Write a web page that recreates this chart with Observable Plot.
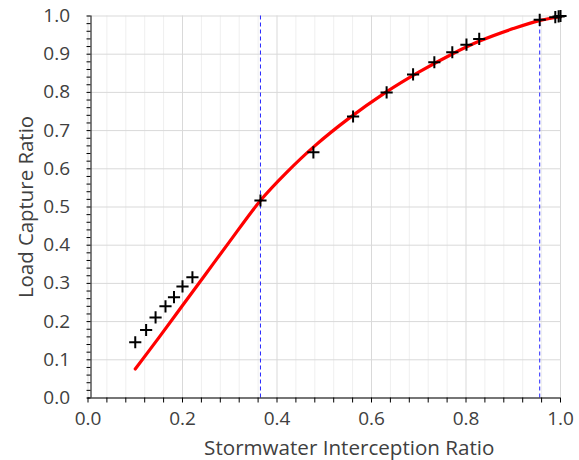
<!DOCTYPE html>
<html>
<head>
<meta charset="utf-8">
<script src="https://cdn.jsdelivr.net/npm/d3@7"></script>
<script src="https://cdn.jsdelivr.net/npm/@observablehq/plot@0.6"></script>
<style>
  body { margin: 0; background: #fff; }
  #chart svg { display: block; }
</style>
</head>
<body>
<div id="chart"></div>
<script>
// Observed points (black crosses)
const obsX = [0.100, 0.123, 0.143, 0.164, 0.182, 0.200, 0.221, 0.365, 0.477, 0.561, 0.632, 0.688, 0.733, 0.771, 0.801, 0.828, 0.956, 0.989, 0.996, 1.000];
const obsY = [0.146, 0.178, 0.211, 0.240, 0.264, 0.292, 0.316, 0.517, 0.643, 0.737, 0.800, 0.847, 0.879, 0.905, 0.925, 0.940, 0.990, 0.997, 0.999, 1.000];

// Fitted curve (red line)
const curveX = [0.10, 0.15, 0.20, 0.25, 0.30, 0.365, 0.42, 0.48, 0.55, 0.63, 0.70, 0.77, 0.83, 0.90, 0.955, 1.00];
const curveY = [0.076, 0.158, 0.242, 0.326, 0.410, 0.517, 0.590, 0.660, 0.730, 0.800, 0.853, 0.900, 0.935, 0.967, 0.988, 0.998];

// Reference (dashed blue) lines
const refX = [0.365, 0.956];

// Tick values
const xTicks = [0.0, 0.2, 0.4, 0.6, 0.8, 1.0];
const yTicks = [0.0, 0.1, 0.2, 0.3, 0.4, 0.5, 0.6, 0.7, 0.8, 0.9, 1.0];
const xMinor = [0.04, 0.08, 0.12, 0.16, 0.24, 0.28, 0.32, 0.36, 0.44, 0.48, 0.52, 0.56, 0.64, 0.68, 0.72, 0.76, 0.84, 0.88, 0.92, 0.96];
const yMinor = d3.range(0, 51).map(i => i / 50);

const xLabel = "Stormwater Interception Ratio";
const yLabel = "Load Capture Ratio";

const obs = obsX.map((x, i) => ({x, y: obsY[i]}));
const curve = curveX.map((x, i) => ({x, y: curveY[i]}));

const fmt = d3.format(".1f");
const txt = "#404040";

const chart = Plot.plot({
  width: 579,
  height: 460,
  marginLeft: 87.5,
  marginRight: 19,
  marginTop: 15.5,
  marginBottom: 62.5,
  style: {fontFamily: "'Open Sans', sans-serif", background: "#fff"},
  x: {domain: [0, 1]},
  y: {domain: [0, 1]},
  marks: [
    Plot.gridX(xMinor, {stroke: "#efefef", strokeOpacity: 1}),
    Plot.gridX(xTicks, {stroke: "#d9d9d9", strokeOpacity: 1}),
    Plot.gridY(yTicks, {stroke: "#d9d9d9", strokeOpacity: 1}),
    Plot.ruleX(refX, {stroke: "#2424ff", strokeWidth: 1, strokeDasharray: "4,3"}),
    Plot.line(curve, {x: "x", y: "y", stroke: "#ff0000", strokeWidth: 3.2, curve: "catmull-rom"}),
    Plot.dot(obs, {x: "x", y: "y", symbol: "plus", r: 4, stroke: "#000", strokeWidth: 2}),
    Plot.ruleY([0], {stroke: "#000", strokeWidth: 1}),
    Plot.ruleX([0], {stroke: "#000", strokeWidth: 1, dx: 3}),
    Plot.axisX(xMinor, {tickSize: 5, tickFormat: () => "", label: null, stroke: "#000"}),
    Plot.axisX(xTicks, {tickSize: 5, tickPadding: 8, tickFormat: fmt, label: null, fontSize: 19, fill: txt, stroke: "#000"}),
    Plot.axisY(yMinor, {tickSize: 4, dx: 3, tickFormat: () => "", label: null, stroke: "#000"}),
    Plot.axisY(yTicks, {tickSize: 0, tickPadding: 18, tickFormat: fmt, label: null, fontSize: 19, fill: txt}),
    Plot.text([xLabel], {frameAnchor: "bottom", textAnchor: "middle", lineAnchor: "middle", dx: 25, dy: 50, fontSize: 20.6, fill: txt}),
    Plot.text([yLabel], {frameAnchor: "left", textAnchor: "middle", lineAnchor: "middle", dx: -62, rotate: -90, fontSize: 20.4, fill: txt})
  ]
});

document.getElementById("chart").append(chart);
</script>
</body>
</html>
